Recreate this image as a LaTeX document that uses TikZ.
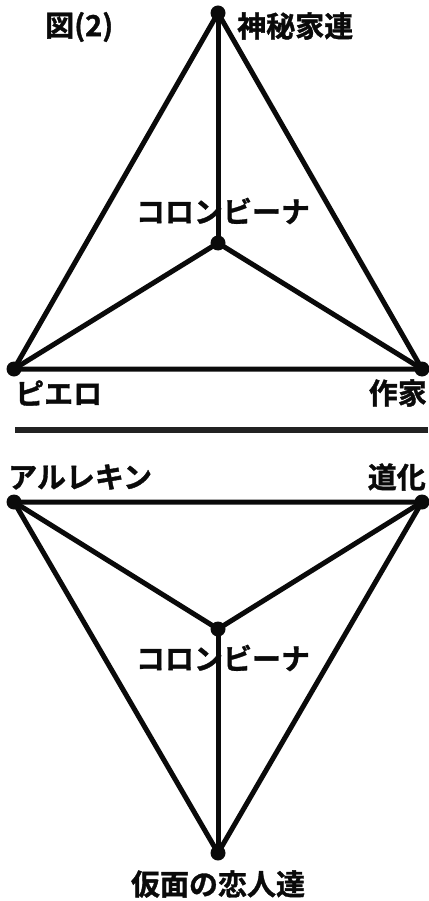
\documentclass[tikz,border=0pt]{standalone}
\usepackage{fontspec}
\newfontfamily\jpfont{Noto Sans CJK JP}[BoldFont={Noto Sans CJK JP Bold},BoldFeatures={FakeBold=1.2}]
\usepackage{tikz}
\usetikzlibrary{positioning,calc}
\definecolor{inkC}{HTML}{0A0A0A}
\definecolor{barC}{HTML}{222222}
\tikzset{
  vtx/.style={circle,fill=inkC,inner sep=0pt,minimum size=15pt},
  edgeLine/.style={line width=5pt,inkC,line cap=round,line join=round},
  lbl/.style={font=\jpfont\bfseries\fontsize{29}{32}\selectfont,text=inkC,inner sep=0pt},
  sepBar/.style={line width=6pt,barC},
}
\begin{document}
\begin{tikzpicture}[x=1pt,y=-1pt]
\useasboundingbox (0,0) rectangle (428,901);

% Upper figure: three outer roles round Colombina.
\node[vtx] (mystic)  at (218,13)  {};
\node[vtx] (pierrot) at (14,369)  {};
\node[vtx] (writer)  at (422,369) {};
\node[vtx] (colA)    at (218,243) {};

\draw[edgeLine] (mystic.center) -- (pierrot.center) -- (writer.center) -- cycle;
\draw[edgeLine] (mystic.center) -- (colA.center);
\draw[edgeLine] (pierrot.center) -- (colA.center) -- (writer.center);

\node[lbl,anchor=west] (figno)    at (45,27)   {図(2)};
\node[lbl,anchor=west] (mysticL)  at (237,26)  {神秘家連};
\node[lbl] (colAL)   at (223,211) {コロンビーナ};
\node[lbl,anchor=west] (pierrotL) at (15,393)  {ピエロ};
\node[lbl,anchor=east] (writerL)  at (427,393) {作家};

% Separator between the two figures.
\coordinate (sepL) at (15,430);
\coordinate (sepR) at (428,430);
\draw[sepBar] (sepL) -- (sepR);

% Lower figure: the mirrored triangle.
\node[vtx] (harlequin) at (14,502)  {};
\node[vtx] (clown)     at (422,502) {};
\node[vtx] (colB)      at (218,629) {};
\node[vtx] (lovers)    at (218,853) {};

\draw[edgeLine] (harlequin.center) -- (clown.center) -- (lovers.center) -- cycle;
\draw[edgeLine] (harlequin.center) -- (colB.center) -- (clown.center);
\draw[edgeLine] (colB.center) -- (lovers.center);

\node[lbl,anchor=west] (harlequinL) at (8,477)   {アルレキン};
\node[lbl,anchor=east] (clownL)     at (426,477) {道化};
\node[lbl] (colBL)  at (223,658) {コロンビーナ};
\node[lbl] (loversL) at (218,884) {仮面の恋人達};

\end{tikzpicture}
\end{document}
